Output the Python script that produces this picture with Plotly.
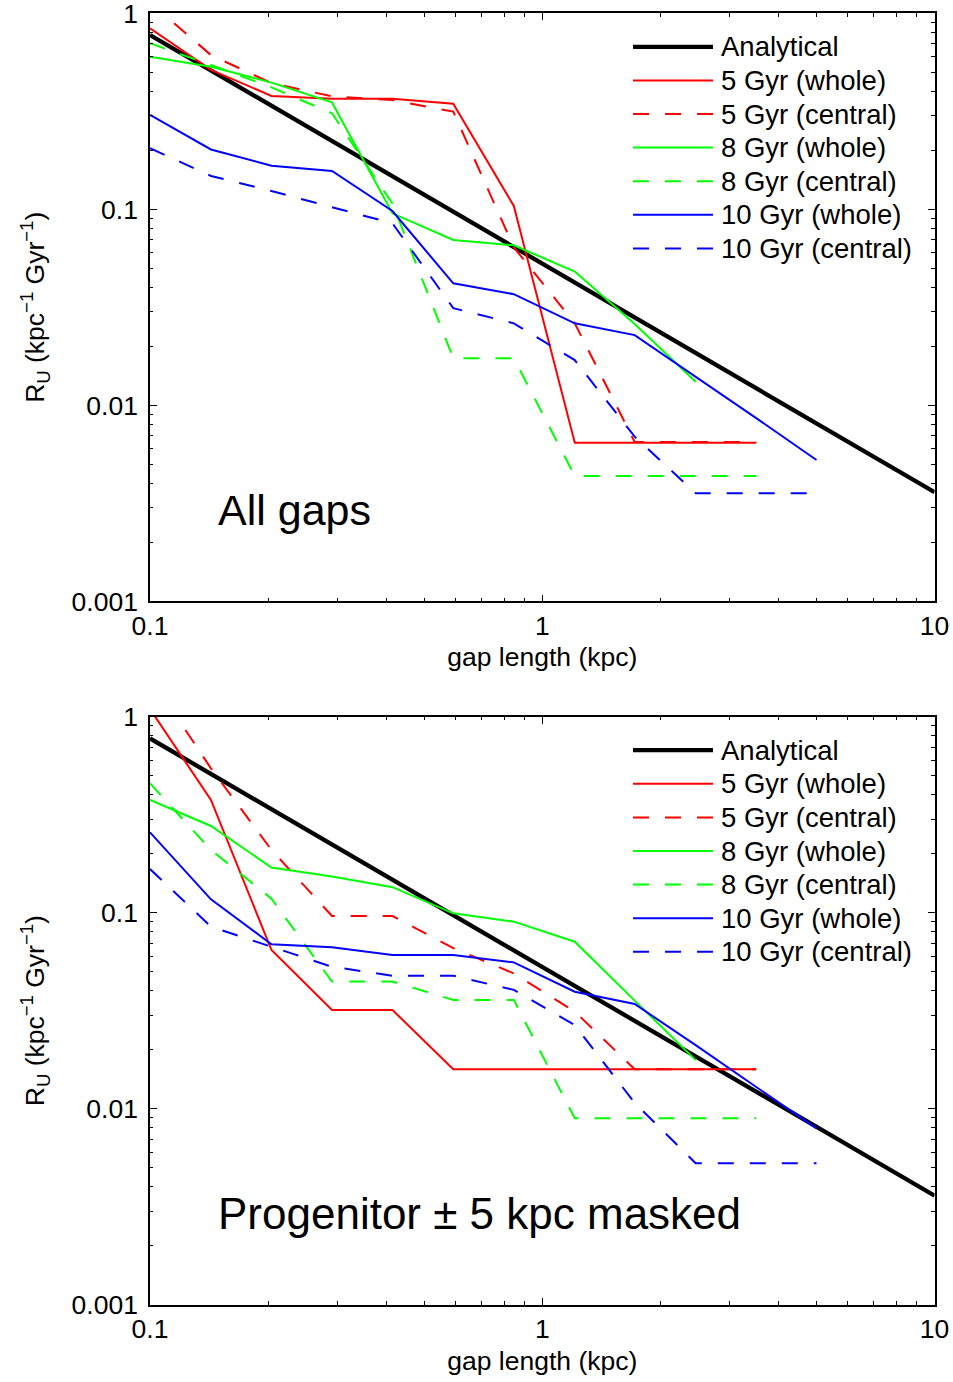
import plotly.graph_objects as go

# ---------------- data ----------------
gap_length = [0.1, 0.143, 0.204, 0.291, 0.415, 0.593, 0.846, 1.21, 1.72, 2.46, 3.51, 5.0]

analytic_x = [0.1, 10.0]
analytic_y = [0.775, 0.0036]

# Panel 1: all gaps
red_whole_all = [0.838, 0.514, 0.379, 0.367, 0.367, 0.346, 0.104, 0.00644, 0.00644, 0.00644, 0.00644]
red_central_all = [1.14, 0.612, 0.44, 0.377, 0.361, 0.315, 0.064, 0.0262, 0.0065, 0.0065, 0.0065]
green_whole_all = [0.601, 0.534, 0.443, 0.351, 0.0954, 0.0697, 0.0655, 0.0481, 0.026, 0.0132]
green_central_all = [0.703, 0.545, 0.419, 0.309, 0.107, 0.0174, 0.0174, 0.00436, 0.00436, 0.00436, 0.00436]
blue_whole_all = [0.303, 0.202, 0.167, 0.157, 0.098, 0.0419, 0.0369, 0.0262, 0.0228, 0.014, 0.0086, 0.00526]
blue_central_all = [0.205, 0.148, 0.124, 0.103, 0.0848, 0.0313, 0.0262, 0.017, 0.00692, 0.00356, 0.00356, 0.00356]

# Panel 2: progenitor +/- 5 kpc masked
red_whole_mask = [1.095, 0.376, 0.0645, 0.0319, 0.0319, 0.0159, 0.0159, 0.0159, 0.0159, 0.0159, 0.0159]
red_central_mask = [1.6, 0.545, 0.209, 0.0962, 0.0962, 0.066, 0.049, 0.0313, 0.0159, 0.0159, 0.0159]
green_whole_mask = [0.376, 0.277, 0.170, 0.153, 0.135, 0.0993, 0.090, 0.0711, 0.0356, 0.0177]
green_central_mask = [0.457, 0.209, 0.118, 0.0445, 0.0445, 0.0359, 0.0359, 0.00893, 0.00893, 0.00893, 0.00893]
blue_whole_mask = [0.257, 0.117, 0.069, 0.0666, 0.0609, 0.0609, 0.0558, 0.0395, 0.0342, 0.0211, 0.0129, 0.00794]
blue_central_mask = [0.167, 0.0849, 0.067, 0.053, 0.0477, 0.0477, 0.0404, 0.0267, 0.0107, 0.00527, 0.00527, 0.00527]

legend_labels = ["Analytical", "5 Gyr (whole)", "5 Gyr (central)", "8 Gyr (whole)",
                 "8 Gyr (central)", "10 Gyr (whole)", "10 Gyr (central)"]
panel_labels = ["All gaps", "Progenitor \u00b1 5 kpc masked"]

x_tickvals = [0.1, 1, 10]
x_ticktext = ["0.1", "1", "10"]
y_tickvals = [0.001, 0.01, 0.1, 1]
y_ticktext = ["0.001", "0.01", "0.1", "1"]

# ---------------- styles ----------------
FONT = "Liberation Sans, Arial, Helvetica, sans-serif"
DASH = "16px,16px"
styles = [
    ("black", 4.3, "solid"),
    ("#ff0000", 2, "solid"),
    ("#ff0000", 2, DASH),
    ("#00ff00", 2, "solid"),
    ("#00ff00", 2, DASH),
    ("#0000ff", 2, "solid"),
    ("#0000ff", 2, DASH),
]

panels = [
    [red_whole_all, red_central_all, green_whole_all, green_central_all, blue_whole_all, blue_central_all],
    [red_whole_mask, red_central_mask, green_whole_mask, green_central_mask, blue_whole_mask, blue_central_mask],
]

fig = go.Figure()
for p, series in enumerate(panels):
    xa = "x" if p == 0 else "x2"
    ya = "y" if p == 0 else "y2"
    c, w, d = styles[0]
    fig.add_trace(go.Scatter(x=analytic_x, y=analytic_y, mode="lines", xaxis=xa, yaxis=ya,
                             line=dict(color=c, width=w, dash=d), showlegend=False,
                             name=legend_labels[0]))
    for i, ys in enumerate(series):
        c, w, d = styles[i + 1]
        fig.add_trace(go.Scatter(x=gap_length[:len(ys)], y=ys, mode="lines", xaxis=xa, yaxis=ya,
                                 line=dict(color=c, width=w, dash=d), showlegend=False,
                                 name=legend_labels[i + 1]))

W, H = 953, 1382
plot_left, plot_right = 150, 934.6
tops = [13.3, 716.7]
plot_h = 588.0

minor_x = [m * 10 ** e for e in (-1, 0) for m in range(2, 10)]
minor_y = [m * 10 ** e for e in (-3, -2, -1) for m in range(2, 10)]

def xaxis_cfg(anchor):
    return dict(type="log", range=[-1, 1], domain=[plot_left / W, plot_right / W], anchor=anchor,
                automargin=False, ticklabeloverflow="allow",
                tickmode="array", tickvals=x_tickvals, ticktext=x_ticktext,
                ticks="inside", ticklen=7, tickwidth=1.2, tickcolor="black",
                minor=dict(tickmode="array", tickvals=minor_x, ticks="inside", ticklen=3.5,
                           tickwidth=1.2, tickcolor="black", showgrid=False),
                showline=True, linecolor="black", linewidth=1.6, mirror="allticks",
                showgrid=False, zeroline=False,
                tickfont=dict(family=FONT, size=26.5, color="black"),
                title=dict(text="gap length (kpc)", font=dict(family=FONT, size=26.5, color="black"),
                           standoff=8))

def yaxis_cfg(anchor, top):
    return dict(type="log", range=[-3, 0], domain=[1 - (top + plot_h) / H, 1 - top / H], anchor=anchor,
                automargin=False, ticklabeloverflow="allow",
                tickmode="array", tickvals=y_tickvals, ticktext=y_ticktext,
                ticks="inside", ticklen=7, tickwidth=1.2, tickcolor="black",
                ticklabelstandoff=5,
                minor=dict(tickmode="array", tickvals=minor_y, ticks="inside", ticklen=3.5,
                           tickwidth=1.2, tickcolor="black", showgrid=False),
                showline=True, linecolor="black", linewidth=1.6, mirror="allticks",
                showgrid=False, zeroline=False,
                tickfont=dict(family=FONT, size=26.5, color="black"),
                title=dict(text="R<sub>U</sub> (kpc<sup>\u22121</sup> Gyr<sup>\u22121</sup>)",
                           font=dict(family=FONT, size=26.5, color="black"), standoff=19))

shapes = []
annotations = []
row0, row_step = 33.5, 33.6
for p in range(2):
    xd = "x domain" if p == 0 else "x2 domain"
    yd = "y domain" if p == 0 else "y2 domain"
    for i, lab in enumerate(legend_labels):
        yy = 1 - (row0 + row_step * i) / plot_h
        c, w, d = styles[i]
        shapes.append(dict(type="line", xref=xd, yref=yd,
                           x0=(633 - plot_left) / (plot_right - plot_left),
                           x1=(713 - plot_left) / (plot_right - plot_left),
                           y0=yy, y1=yy, line=dict(color=c, width=w, dash=d)))
        annotations.append(dict(text=lab, xref=xd, yref=yd,
                                x=(719 - plot_left) / (plot_right - plot_left), y=yy,
                                xanchor="left", yanchor="middle", showarrow=False,
                                font=dict(family=FONT, size=27.5, color="black")))
    annotations.append(dict(text=panel_labels[p], xref=xd, yref=yd,
                            x=(216 - plot_left) / (plot_right - plot_left),
                            y=1 - (510 + (703 if p else 0) - tops[p]) / plot_h,
                            xanchor="left", yanchor="middle", showarrow=False,
                            font=dict(family=FONT, size=(43 if p == 0 else 44), color="black")))

fig.update_layout(
    width=W, height=H,
    margin=dict(l=0, r=0, t=0, b=0, autoexpand=False),
    paper_bgcolor="white", plot_bgcolor="white",
    xaxis=xaxis_cfg("y"), yaxis=yaxis_cfg("x", tops[0]),
    xaxis2=xaxis_cfg("y2"), yaxis2=yaxis_cfg("x2", tops[1]),
    shapes=shapes, annotations=annotations,
    showlegend=False,
    font=dict(family=FONT, color="black"),
)

fig.write_html("out.html")
